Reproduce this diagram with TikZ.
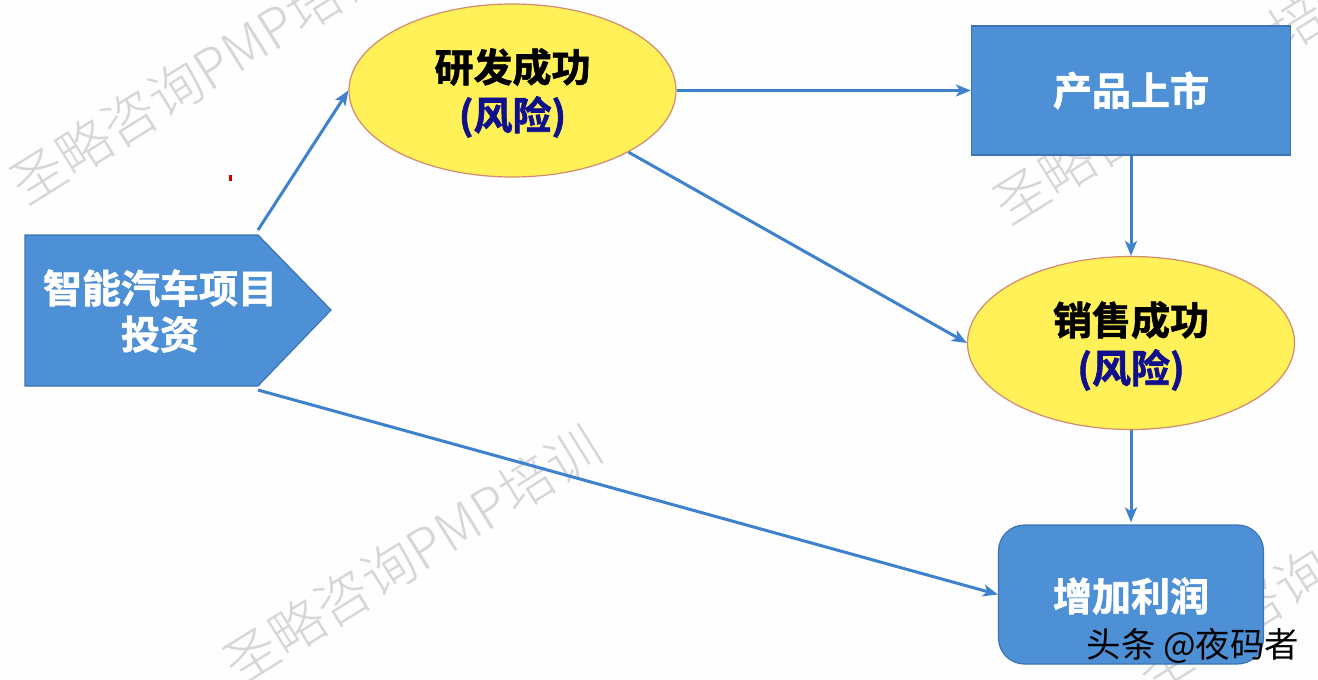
\documentclass[tikz,border=0pt]{standalone}
\usepackage{fontspec}
\usetikzlibrary{shapes.geometric,arrows.meta}
\setmainfont{Noto Sans CJK SC}
\newfontfamily\wmfont{Noto Sans CJK SC Light}
\newfontfamily\headfont[FakeBold=1.6]{Noto Sans CJK SC Bold}
\definecolor{boxblue}{HTML}{4E90D6}
\definecolor{boxedge}{HTML}{3C74B4}
\definecolor{arrowblue}{HTML}{3E82CE}
\definecolor{ellfill}{HTML}{FFF157}
\definecolor{elledge}{HTML}{D28A70}
\definecolor{riskblue}{HTML}{10108C}
\definecolor{wmgray}{HTML}{D4D6D8}
\definecolor{pagebg}{HTML}{FEFEFF}
\tikzset{
  flowbox/.style={draw=boxedge,fill=boxblue,line width=1.2pt,inner sep=0pt,text=white,font=\headfont\fontsize{39}{48}\selectfont,align=center},
  riskell/.style={ellipse,draw=elledge,fill=ellfill,line width=1.2pt,inner sep=0pt,minimum width=327pt,minimum height=173pt,font=\headfont\fontsize{39}{48}\selectfont,align=center},
  flow/.style={draw=arrowblue,line width=3pt,-{Stealth[length=15pt,width=12pt,inset=4pt]}},
  wm/.style={text=wmgray,rotate=32,font=\wmfont\fontsize{54}{60}\selectfont,inner sep=0pt},
}
\begin{document}
\begin{tikzpicture}[x=1pt,y=-1pt]
\useasboundingbox (0,0) rectangle (1318,680);
\clip (0,0) rectangle (1318,680);
\fill[pagebg] (0,0) rectangle (1318,680);
\node[wm] (w1) at (199,75) {圣略咨询PMP培训};
\node[wm] (w2) at (412,555) {圣略咨询PMP培训};
\node[wm] (w3) at (1182,95) {圣略咨询PMP培训};
\node[wm] (w4) at (1325,563) {圣略咨询PMP培训};
\fill[red!80!black] (228.5,174.5) rectangle (232,181);
\draw[flowbox] (25,235) coordinate (pa) -- (258,235) coordinate (pb) -- (331,310) -- (258,386) coordinate (pc) -- (25,386) -- cycle;
\node[text=white,font=\headfont\fontsize{39}{46}\selectfont,align=center,inner sep=0pt] (invest) at (160,311) {智能汽车项目\\投资};
\node[riskell] (rd) at (512.5,90.5) {};
\node[font=\headfont\fontsize{39}{48}\selectfont,align=center,inner sep=0pt] (rdtext) at (512.5,93) {研发成功\\\textcolor{riskblue}{(风险)}};
\node[riskell] (sale) at (1131,343) {};
\node[font=\headfont\fontsize{39}{48}\selectfont,align=center,inner sep=0pt] (saletext) at (1131,346) {销售成功\\\textcolor{riskblue}{(风险)}};
\node[flowbox,minimum width=319pt,minimum height=129pt] (market) at (1131,90.5) {产品上市};
\node[flowbox,rounded corners=26pt,minimum width=265pt,minimum height=139pt] (profit) at (1131,594.5) {};
\node[text=white,font=\headfont\fontsize{39}{48}\selectfont,inner sep=0pt] (profittext) at (1131,596) {增加利润};
\node[font=\fontsize{34.5}{38}\selectfont,text=black,inner sep=0pt] (brand) at (1193,646) {头条 @夜码者};
\coordinate (pbup) at (258,230);
\coordinate (pcdn) at (258,390);
\draw[flow] (pbup) -- (rd.west);
\draw[flow] (rd.east) -- (market.west);
\draw[flow] (rd.-28) -- (sale.west);
\draw[flow] (market.south) -- (sale.north);
\draw[flow,shorten >=2pt] (sale.south) -- (profit.north);
\draw[flow] (pcdn) -- (profit.west);
\end{tikzpicture}
\end{document}
